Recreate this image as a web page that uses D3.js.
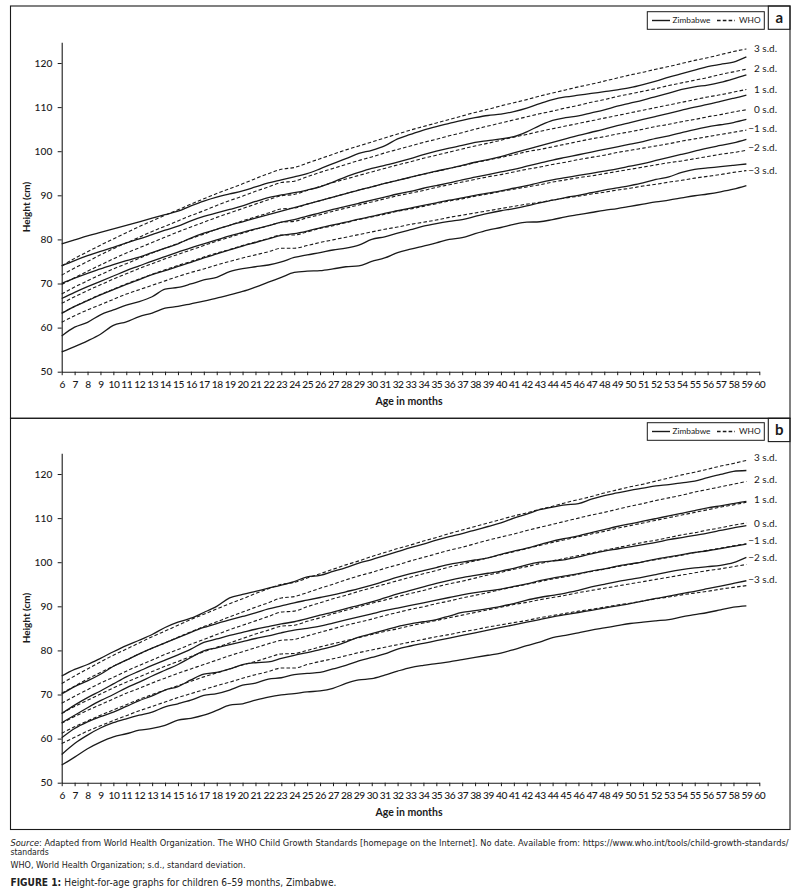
<!DOCTYPE html>
<html><head><meta charset="utf-8">
<script src="https://cdn.jsdelivr.net/npm/d3@7"></script>
<style>body{margin:0;background:#fff}svg{display:block}</style>
</head><body>
<svg id="chart" width="803" height="894"></svg>
<script>
// ---------------- DATA ----------------
const months = [6,7,8,9,10,11,12,13,14,15,16,17,18,19,20,21,22,23,24,25,26,27,28,29,30,31,32,33,34,35,36,37,38,39,40,41,42,43,44,45,46,47,48,49,50,51,52,53,54,55,56,57,58,59];
const xTickLabels = [6,7,8,9,10,11,12,13,14,15,16,17,18,19,20,21,22,23,24,25,26,27,28,29,30,31,32,33,34,35,36,37,38,39,40,41,42,43,44,45,46,47,48,49,50,51,52,53,54,55,56,57,58,59,60];
const yTickLabels = [50,60,70,80,90,100,110,120];
const sdLabels = ["3 s.d.","2 s.d.","1 s.d.","0 s.d.","\u22121 s.d.","\u22122 s.d.","\u22123 s.d."];
const legendLabels = ["Zimbabwe","WHO"];
const panelLetters = ["a","b"];

// WHO boys (panel a)
const whoBoysP3 = [74.0,75.7,77.2,78.7,80.1,81.5,82.9,84.2,85.5,86.7,88.0,89.2,90.4,91.5,92.6,93.8,94.9,95.9,96.3,97.3,98.3,99.3,100.3,101.2,102.1,103.0,103.9,104.8,105.6,106.4,107.2,108.0,108.8,109.5,110.3,111.0,111.7,112.5,113.2,113.9,114.6,115.2,115.9,116.6,117.3,117.9,118.6,119.2,119.9,120.6,121.2,121.9,122.6,123.2];
const whoBoysP2 = [71.9,73.5,75.0,76.5,77.9,79.2,80.5,81.8,83.0,84.2,85.4,86.5,87.7,88.8,89.8,90.9,91.9,92.9,93.2,94.2,95.2,96.1,97.0,97.9,98.7,99.6,100.4,101.2,102.0,102.7,103.5,104.2,105.0,105.7,106.4,107.1,107.8,108.5,109.1,109.8,110.4,111.1,111.7,112.4,113.0,113.6,114.2,114.9,115.5,116.1,116.7,117.4,118.0,118.6];
const whoBoysP1 = [69.8,71.3,72.8,74.2,75.6,76.9,78.1,79.3,80.5,81.7,82.8,83.9,85.0,86.0,87.0,88.0,89.0,89.9,90.2,91.1,92.0,92.9,93.7,94.5,95.3,96.1,96.9,97.6,98.4,99.1,99.8,100.5,101.2,101.8,102.5,103.2,103.8,104.5,105.1,105.7,106.3,106.9,107.5,108.1,108.7,109.3,109.9,110.5,111.1,111.7,112.3,112.8,113.4,114.0];
const whoBoys0  = [67.6,69.2,70.6,72.0,73.3,74.5,75.7,76.9,78.0,79.1,80.2,81.2,82.3,83.2,84.2,85.1,86.0,86.9,87.1,88.0,88.8,89.6,90.4,91.2,91.9,92.7,93.4,94.1,94.8,95.4,96.1,96.7,97.4,98.0,98.6,99.2,99.9,100.4,101.0,101.6,102.2,102.8,103.3,103.9,104.4,105.0,105.6,106.1,106.7,107.2,107.8,108.3,108.9,109.4];
const whoBoysM1 = [65.5,67.0,68.4,69.7,71.0,72.2,73.4,74.5,75.6,76.6,77.6,78.6,79.6,80.5,81.4,82.3,83.1,83.9,84.1,84.9,85.6,86.4,87.1,87.8,88.5,89.2,89.9,90.5,91.1,91.8,92.4,93.0,93.6,94.2,94.7,95.3,95.9,96.4,97.0,97.5,98.1,98.6,99.1,99.7,100.2,100.7,101.2,101.7,102.3,102.8,103.3,103.8,104.3,104.8];
const whoBoysM2 = [63.3,64.8,66.2,67.5,68.7,69.9,71.0,72.1,73.1,74.1,75.0,76.0,76.9,77.7,78.6,79.4,80.2,81.0,81.0,81.7,82.5,83.1,83.8,84.5,85.1,85.7,86.4,86.9,87.5,88.1,88.7,89.2,89.8,90.3,90.9,91.4,91.9,92.4,93.0,93.5,94.0,94.4,94.9,95.4,95.9,96.4,96.9,97.4,97.8,98.3,98.8,99.3,99.7,100.2];
const whoBoysM3 = [61.2,62.7,64.0,65.2,66.4,67.6,68.6,69.6,70.6,71.6,72.5,73.3,74.2,75.0,75.8,76.5,77.2,78.0,78.0,78.6,79.3,79.9,80.5,81.1,81.7,82.3,82.8,83.4,83.9,84.4,85.0,85.5,86.0,86.5,87.0,87.5,88.0,88.4,88.9,89.4,89.8,90.3,90.7,91.2,91.6,92.1,92.5,93.0,93.4,93.9,94.3,94.7,95.2,95.6];

// Zimbabwe boys (panel a)
const zimBoysP3 = [79.0,79.9,80.8,81.6,82.4,83.2,84.0,84.8,85.6,86.4,87.6,88.7,89.6,90.3,91.0,91.9,92.8,93.5,94.2,94.9,96.0,97.2,98.3,99.5,100.2,101.2,102.8,103.8,104.8,105.6,106.3,107.0,107.6,108.1,108.4,109.0,109.8,110.8,111.7,112.3,112.7,113.1,113.5,113.9,114.4,115.1,115.9,116.8,117.6,118.4,119.2,119.7,120.2,121.4];
const zimBoysP2 = [74.0,75.2,76.3,77.3,78.2,79.2,80.1,81.1,82.1,83.0,84.2,85.2,86.0,86.8,87.6,88.6,89.5,90.1,90.6,91.2,91.9,93.0,94.2,95.2,96.1,96.8,97.5,98.3,99.2,100.0,100.7,101.3,102.0,102.4,102.8,103.3,104.4,105.8,107.0,107.6,108.0,108.7,109.4,110.2,110.9,111.6,112.4,113.2,114.0,114.6,115.0,115.6,116.4,117.3];
const zimBoysP1 = [70.0,71.2,72.3,73.3,74.3,75.2,76.0,77.0,78.0,79.0,80.3,81.4,82.3,83.2,84.0,84.8,85.6,86.4,87.2,88.0,88.8,89.6,90.4,91.2,91.9,92.7,93.4,94.1,94.8,95.5,96.1,96.8,97.5,98.1,98.8,99.6,100.4,101.2,102.0,102.8,103.6,104.3,105.0,105.8,106.5,107.2,107.9,108.6,109.3,110.0,110.6,111.3,112.0,112.7];
const zimBoys0  = [66.6,68.0,69.3,70.5,71.7,72.9,74.0,75.1,76.1,77.1,78.1,79.0,79.9,80.8,81.6,82.4,83.1,83.9,84.5,85.3,86.0,86.8,87.5,88.2,88.9,89.6,90.3,90.9,91.6,92.2,92.8,93.5,94.1,94.7,95.3,95.9,96.6,97.3,98.0,98.6,99.2,99.8,100.4,101.0,101.6,102.2,102.9,103.5,104.2,104.9,105.5,106.0,106.5,107.2];
const zimBoysM1 = [63.2,64.8,66.1,67.4,68.6,69.8,70.9,72.0,72.9,73.9,74.8,75.8,76.7,77.6,78.5,79.3,80.1,80.9,81.3,81.9,82.6,83.3,83.9,84.6,85.2,85.9,86.5,87.1,87.7,88.3,88.9,89.4,90.0,90.5,91.0,91.6,92.2,92.9,93.5,94.0,94.5,95.0,95.5,96.0,96.6,97.2,97.9,98.6,99.3,100.0,100.7,101.3,101.9,102.7];
const zimBoysM2 = [58.1,60.1,61.2,62.9,64.0,65.1,65.9,67.0,68.7,69.1,69.9,70.8,71.4,72.7,73.4,73.8,74.2,74.9,75.9,76.5,77.0,77.6,78.0,78.7,80.0,80.6,81.4,82.2,83.0,83.6,84.1,84.5,85.2,85.9,86.5,87.0,87.6,88.3,88.9,89.5,90.0,90.6,91.2,91.7,92.2,92.8,93.6,94.2,95.2,95.9,96.2,96.5,96.8,97.1];
const zimBoysM3 = [54.5,55.7,57.0,58.5,60.5,61.3,62.5,63.3,64.4,64.8,65.4,66.0,66.7,67.4,68.2,69.2,70.3,71.4,72.5,72.8,72.9,73.3,73.8,74.0,75.0,75.8,77.0,77.8,78.5,79.2,80.0,80.4,81.3,82.1,82.7,83.4,83.9,84.0,84.5,85.1,85.6,86.1,86.6,87.0,87.5,88.0,88.5,88.9,89.4,89.9,90.3,90.8,91.4,92.2];

// WHO girls (panel b)
const whoGirlsP3 = [72.5,74.2,75.8,77.4,78.9,80.3,81.7,83.1,84.4,85.7,87.0,88.2,89.4,90.6,91.7,92.9,94.0,95.0,95.4,96.4,97.4,98.4,99.4,100.3,101.3,102.2,103.1,103.9,104.8,105.6,106.5,107.3,108.1,108.9,109.7,110.5,111.2,112.0,112.7,113.5,114.2,114.9,115.7,116.4,117.1,117.7,118.4,119.1,119.8,120.4,121.1,121.8,122.4,123.1];
const whoGirlsP2 = [70.3,71.9,73.5,75.0,76.4,77.8,79.2,80.5,81.7,83.0,84.2,85.4,86.5,87.6,88.7,89.8,90.8,91.9,92.2,93.1,94.1,95.0,96.0,96.9,97.7,98.6,99.4,100.3,101.1,101.9,102.7,103.4,104.2,105.0,105.7,106.4,107.2,107.9,108.6,109.3,110.0,110.7,111.3,112.0,112.7,113.3,114.0,114.6,115.2,115.9,116.5,117.1,117.7,118.3];
const whoGirlsP1 = [68.0,69.6,71.1,72.6,73.9,75.3,76.6,77.8,79.1,80.2,81.4,82.5,83.6,84.7,85.7,86.7,87.7,88.7,88.9,89.9,90.8,91.7,92.5,93.4,94.2,95.0,95.8,96.6,97.4,98.1,98.9,99.6,100.3,101.0,101.7,102.4,103.1,103.8,104.5,105.1,105.8,106.4,107.0,107.7,108.3,108.9,109.5,110.1,110.7,111.3,111.9,112.5,113.0,113.6];
const whoGirls0  = [65.7,67.3,68.7,70.1,71.5,72.8,74.0,75.2,76.4,77.5,78.6,79.7,80.7,81.7,82.7,83.7,84.6,85.5,85.7,86.6,87.4,88.3,89.1,89.9,90.7,91.4,92.2,92.9,93.6,94.4,95.1,95.7,96.4,97.1,97.7,98.4,99.0,99.7,100.3,100.9,101.5,102.1,102.7,103.3,103.9,104.5,105.0,105.6,106.2,106.7,107.3,107.8,108.4,108.9];
const whoGirlsM1 = [63.5,65.0,66.4,67.7,69.0,70.3,71.4,72.6,73.7,74.8,75.8,76.8,77.8,78.8,79.7,80.6,81.5,82.3,82.5,83.3,84.1,84.9,85.7,86.4,87.1,87.9,88.6,89.3,89.9,90.6,91.2,91.9,92.5,93.1,93.8,94.4,95.0,95.6,96.2,96.7,97.3,97.9,98.4,99.0,99.5,100.1,100.6,101.1,101.6,102.2,102.7,103.2,103.7,104.2];
const whoGirlsM2 = [61.2,62.7,64.0,65.3,66.5,67.7,68.9,70.0,71.0,72.0,73.0,74.0,74.9,75.8,76.7,77.5,78.4,79.2,79.3,80.0,80.8,81.5,82.2,82.9,83.6,84.3,84.9,85.6,86.2,86.8,87.4,88.0,88.6,89.2,89.8,90.4,90.9,91.5,92.0,92.5,93.1,93.6,94.1,94.6,95.1,95.6,96.1,96.6,97.1,97.6,98.1,98.5,99.0,99.5];
const whoGirlsM3 = [58.9,60.3,61.7,62.9,64.1,65.2,66.3,67.3,68.3,69.3,70.2,71.1,72.0,72.8,73.7,74.5,75.2,76.0,76.0,76.8,77.5,78.1,78.8,79.5,80.1,80.7,81.3,81.9,82.5,83.1,83.6,84.2,84.7,85.3,85.8,86.3,86.8,87.4,87.9,88.4,88.9,89.3,89.8,90.3,90.7,91.2,91.7,92.1,92.6,93.0,93.4,93.9,94.3,94.7];

// Zimbabwe girls (panel b)
const zimGirlsP3 = [74.2,75.7,76.8,78.2,79.7,81.1,82.3,83.6,85.2,86.4,87.3,88.6,90.0,91.9,92.7,93.4,94.1,94.8,95.6,96.7,97.0,97.9,98.8,99.8,100.6,101.5,102.4,103.3,104.1,105.0,105.8,106.5,107.3,108.1,108.9,110.0,110.9,111.9,112.5,113.0,113.3,114.3,115.1,115.7,116.3,116.8,117.3,117.6,118.0,118.4,119.2,119.9,120.6,120.8];
const zimGirlsP2 = [70.1,71.8,73.1,74.6,76.4,77.8,79.2,80.5,81.7,82.9,84.1,85.2,86.1,86.9,87.7,88.5,89.4,90.1,90.8,91.4,92.0,92.6,93.3,94.0,94.8,95.7,96.6,97.4,98.1,98.8,99.5,100.0,100.5,101.0,101.8,102.5,103.2,104.0,104.8,105.4,106.0,106.7,107.4,108.1,108.7,109.3,109.9,110.5,111.1,111.7,112.3,112.8,113.3,113.8];
const zimGirlsP1 = [65.7,67.6,69.3,70.8,72.4,74.0,75.3,76.6,77.8,79.0,80.3,81.8,82.6,83.4,84.1,84.8,85.4,86.0,86.5,87.2,88.0,88.7,89.5,90.2,91.0,91.9,92.8,93.6,94.4,95.2,95.9,96.5,97.0,97.5,98.0,98.6,99.4,100.0,100.3,100.6,101.2,101.9,102.5,103.0,103.5,104.0,104.5,105.1,105.6,106.1,106.6,107.2,107.8,108.3];
const zimGirls0  = [63.6,65.3,67.0,68.6,70.0,71.5,72.8,74.2,75.5,76.8,78.4,79.9,80.6,81.3,82.0,82.7,83.3,84.0,84.6,85.0,85.5,86.2,86.9,87.6,88.3,89.0,89.6,90.2,90.8,91.4,92.0,92.6,93.1,93.5,93.9,94.5,95.1,95.8,96.4,96.9,97.4,98.0,98.5,99.1,99.6,100.1,100.7,101.2,101.7,102.2,102.6,103.1,103.6,104.1];
const zimGirlsM1 = [60.2,62.3,63.8,65.0,66.0,67.3,68.6,69.7,71.0,71.8,73.3,74.6,75.0,75.8,76.8,77.2,77.4,78.2,78.9,79.5,80.2,80.9,81.9,83.0,83.8,84.6,85.4,86.0,86.5,87.0,87.8,88.6,89.0,89.5,90.0,90.6,91.4,92.0,92.5,93.0,93.6,94.4,95.0,95.6,96.1,96.6,97.2,97.8,98.3,98.7,99.0,99.3,99.9,101.1];
const zimGirlsM2 = [56.4,58.9,60.8,62.4,63.6,64.5,65.3,66.0,67.2,67.9,68.7,69.8,70.2,71.0,72.1,72.6,73.5,73.8,74.5,74.8,75.0,75.8,76.6,77.6,78.4,79.2,80.3,81.0,81.6,82.2,82.8,83.4,84.0,84.6,85.2,85.8,86.4,87.0,87.6,88.1,88.6,89.1,89.6,90.1,90.6,91.2,91.8,92.3,92.9,93.4,94.0,94.6,95.2,95.8];
const zimGirlsM3 = [54.0,55.8,57.7,59.2,60.4,61.1,61.9,62.3,63.0,64.2,64.6,65.3,66.4,67.6,67.9,68.7,69.4,69.9,70.2,70.6,70.8,71.4,72.5,73.3,73.6,74.4,75.3,76.1,76.6,77.0,77.4,77.9,78.4,78.9,79.4,80.2,81.1,81.9,82.9,83.4,84.0,84.6,85.1,85.6,86.1,86.4,86.7,87.0,87.6,88.1,88.6,89.2,89.8,90.1];

const captionSource = "Adapted from World Health Organization. The WHO Child Growth Standards [homepage on the Internet]. No date. Available from: https://www.who.int/tools/child-growth-standards/";
const captionSource2 = "standards";
const captionAbbr = "WHO, World Health Organization; s.d., standard deviation.";
const captionFigure = "Height-for-age graphs for children 6\u201359 months, Zimbabwe.";

// ---------------- LAYOUT ----------------
const L = {
  boxL: 10.5, boxR: 790,
  boxTop: [6, 418.3], boxBottom: [418.3, 829.5],
  off: [0, 411],
  x0: 61.7, x1: 759.3,
  yBase: 371.7, yTop: 42.3, yMax: 124.7,
  labelRight: 777,
  labelNudge: [[0,-1,0,0,-1.8,-3,0],[-3,-1.8,-2.6,0.9,-3.5,-7,-5.7]]
};
const tickFont = "Lato, 'Open Sans', sans-serif";
const ink = "#1a1a1a";

const svg = d3.select("#chart");
svg.append("rect").attr("width",803).attr("height",894).attr("fill","#fff");

const x = d3.scaleLinear().domain([6,60]).range([L.x0, L.x1]);

const panels = [
  {who:[whoBoysP3,whoBoysP2,whoBoysP1,whoBoys0,whoBoysM1,whoBoysM2,whoBoysM3],
   zim:[zimBoysP3,zimBoysP2,zimBoysP1,zimBoys0,zimBoysM1,zimBoysM2,zimBoysM3]},
  {who:[whoGirlsP3,whoGirlsP2,whoGirlsP1,whoGirls0,whoGirlsM1,whoGirlsM2,whoGirlsM3],
   zim:[zimGirlsP3,zimGirlsP2,zimGirlsP1,zimGirls0,zimGirlsM1,zimGirlsM2,zimGirlsM3]}
];

panels.forEach((p, pi) => {
  const off = L.off[pi];
  svg.append("rect").attr("x",L.boxL).attr("y",L.boxTop[pi])
    .attr("width",L.boxR-L.boxL).attr("height",L.boxBottom[pi]-L.boxTop[pi])
    .attr("fill","none").attr("stroke",ink).attr("stroke-width",1.1);

  const g = svg.append("g").attr("transform",`translate(0,${off})`);
  const y = d3.scaleLinear().domain([50, L.yMax]).range([L.yBase, L.yTop]);

  const xAxis = d3.axisBottom(x).tickValues(xTickLabels).tickSize(3.5).tickSizeOuter(0).tickPadding(5.2).tickFormat(d3.format("d"));
  const gx = g.append("g").attr("transform",`translate(0,${L.yBase})`).call(xAxis);
  const yAxis = d3.axisLeft(y).tickValues(yTickLabels).tickSize(4).tickSizeOuter(0).tickPadding(5.4);
  const gy = g.append("g").attr("transform",`translate(${L.x0},0)`).call(yAxis);
  [gx,gy].forEach(a=>{
    a.select(".domain").attr("stroke",ink).attr("stroke-width",1.1);
    a.selectAll(".tick line").attr("stroke",ink).attr("stroke-width",1);
    a.selectAll(".tick text").attr("fill",ink).style("font-family",tickFont).style("font-size","10.2px").style("font-weight","500");
  });
  gx.selectAll(".tick text").style("letter-spacing","-0.45px");

  g.append("text").attr("x",409).attr("y",404.5).attr("text-anchor","middle")
    .style("font-family",tickFont).style("font-weight","bold").style("font-size","10.5px").attr("fill",ink)
    .text("Age in months");
  g.append("text").attr("transform","translate(30,207) rotate(-90)").attr("text-anchor","middle")
    .style("font-family",tickFont).style("font-weight","bold").style("font-size","10px").attr("fill",ink)
    .text("Height (cm)");

  const line = d3.line().x((d,i)=>x(months[i])).y(d=>y(d)).curve(d3.curveMonotoneX);

  g.selectAll(".who").data(p.who).join("path").attr("class","who")
    .attr("d",line).attr("fill","none").attr("stroke",ink).attr("stroke-width",1.1)
    .attr("stroke-dasharray","3.6,2.2");
  g.selectAll(".zim").data(p.zim).join("path").attr("class","zim")
    .attr("d",line).attr("fill","none").attr("stroke",ink).attr("stroke-width",1.3);

  g.selectAll(".sdl").data(p.who).join("text").attr("class","sdl")
    .attr("x",L.labelRight).attr("y",(d,i)=>y(d[d.length-1]) + L.labelNudge[pi][i])
    .attr("dy","0.35em").attr("text-anchor","end")
    .style("font-family",tickFont).style("font-size","10px").attr("fill",ink)
    .text((d,i)=>sdLabels[i]);

  const lg = g.append("g");
  lg.append("rect").attr("x",647.3).attr("y",11.7).attr("width",117).attr("height",17.6)
    .attr("fill","#fff").attr("stroke",ink).attr("stroke-width",1);
  lg.append("line").attr("x1",652).attr("x2",670).attr("y1",20.5).attr("y2",20.5)
    .attr("stroke",ink).attr("stroke-width",1.4);
  lg.append("text").attr("x",672.5).attr("y",23.3).text(legendLabels[0])
    .style("font-family",tickFont).style("font-size","8.3px").attr("fill",ink);
  lg.append("line").attr("x1",717).attr("x2",735).attr("y1",20.5).attr("y2",20.5)
    .attr("stroke",ink).attr("stroke-width",1.3).attr("stroke-dasharray","3.6,2.2");
  lg.append("text").attr("x",739).attr("y",23.3).text(legendLabels[1])
    .style("font-family",tickFont).style("font-size","8.3px").attr("fill",ink);

  svg.append("rect").attr("x",768.3).attr("y",L.boxTop[pi]).attr("width",L.boxR-768.3).attr("height",23.3)
    .attr("fill","none").attr("stroke",ink).attr("stroke-width",1.1);
  svg.append("text").attr("x",779.2).attr("y",L.boxTop[pi]+16.5).attr("text-anchor","middle")
    .style("font-family",tickFont).style("font-weight","bold").style("font-size","15px").attr("fill",ink)
    .text(panelLetters[pi]);
});

const capFont = "'Liberation Sans Narrow','DejaVu Sans Condensed',sans-serif";
const c1 = svg.append("text").attr("x",10.5).attr("y",846).style("font-family",capFont).style("font-size","8.6px").attr("fill","#222")
  .attr("textLength",778).attr("lengthAdjust","spacingAndGlyphs");
c1.append("tspan").style("font-style","italic").text("Source");
c1.append("tspan").text(": " + captionSource);
svg.append("text").attr("x",10.5).attr("y",855).style("font-family",capFont).style("font-size","8.6px").attr("fill","#222").text(captionSource2);
svg.append("text").attr("x",10.5).attr("y",867.5).style("font-family",capFont).style("font-size","8.6px").attr("fill","#222")
  .attr("textLength",235).attr("lengthAdjust","spacingAndGlyphs").text(captionAbbr);
const c4 = svg.append("text").attr("x",10.5).attr("y",885.5).style("font-family",capFont).style("font-size","9.6px").attr("fill","#222")
  .attr("textLength",326).attr("lengthAdjust","spacingAndGlyphs");
c4.append("tspan").style("font-weight","bold").text("FIGURE 1: ");
c4.append("tspan").text(captionFigure);
</script>
</body></html>
